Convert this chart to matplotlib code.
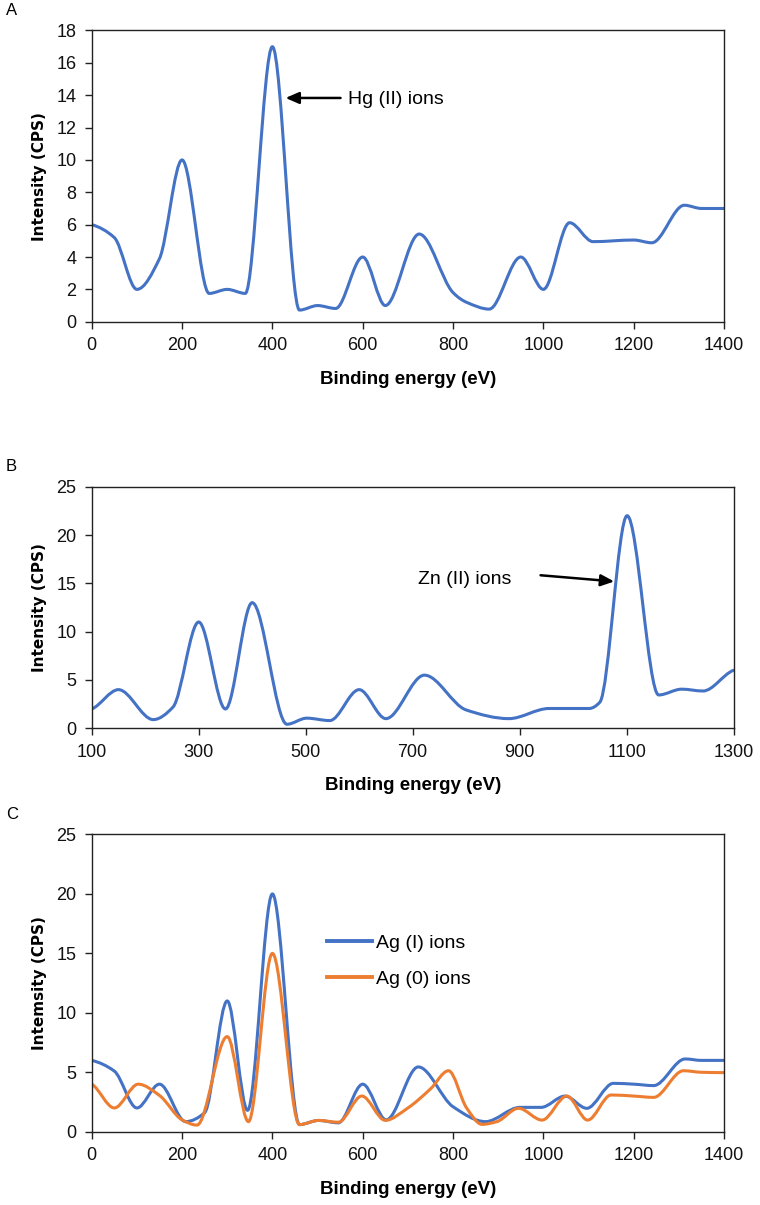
import matplotlib
matplotlib.use("Agg")
import matplotlib.pyplot as plt
import numpy as np
from matplotlib.path import Path
from matplotlib.patches import PathPatch

# ---- data ----
hg_x = [0, 50, 100, 150, 200, 260, 300, 340, 400, 460, 500, 540, 600, 650, 725, 800, 830, 880,
        950, 1000, 1058, 1110, 1200, 1240, 1312, 1350, 1400]
hg_y = [6, 5.2, 2, 3.9, 10, 1.75, 2, 1.75, 17, 0.72, 1, 0.82, 4, 1, 5.42, 1.8, 1.2, 0.78,
        4, 2, 6.12, 4.95, 5.05, 4.88, 7.2, 7, 7]

zn_x = [100, 150, 215, 252, 300, 350, 400, 465, 502, 545, 600, 650, 722, 800, 880, 955, 1030,
        1050, 1101, 1160, 1203, 1243, 1300]
zn_y = [2, 4, 0.9, 2.2, 11, 2, 13, 0.42, 1.05, 0.8, 4, 1, 5.5, 1.9, 1, 2.05, 2.05,
        2.7, 22, 3.45, 4.05, 3.86, 6]

agI_x = [0, 50, 100, 150, 208, 250, 300, 345, 400, 460, 502, 546, 600, 652, 723, 800, 872,
         948, 995, 1048, 1096, 1155, 1200, 1244, 1314, 1350, 1400]
agI_y = [6, 5.1, 2, 4, 0.85, 1.6, 11, 1.8, 20, 0.6, 0.95, 0.75, 4, 1, 5.45, 2.1, 0.85,
         2.05, 2.05, 3, 1.97, 4.07, 4, 3.88, 6.12, 6, 6]

ag0_x = [0, 50, 103, 150, 200, 233, 300, 347, 400, 460, 502, 546, 598, 650, 700, 750, 790, 830,
         864, 897, 945, 997, 1052, 1098, 1150, 1200, 1244, 1310, 1350, 1400]
ag0_y = [4, 2, 4, 3.05, 1, 0.56, 8, 0.85, 15, 0.6, 0.95, 0.8, 3, 0.96, 2, 3.6, 5.13, 2,
         0.62, 0.85, 1.97, 0.98, 3, 0.98, 3.09, 3, 2.89, 5.13, 5, 4.97]

BLUE = "#4472C4"
ORANGE = "#ED7D31"
TICK_FONT = ["Liberation Sans"]


def smooth_line(ax, x, y, color, label=None):
    # cubic bezier through the read points (like Excel "smoothed line")
    x = np.asarray(x, float)
    y = np.asarray(y, float)
    d = np.diff(y) / np.diff(x)
    m = np.zeros(len(x))
    for i in range(1, len(x) - 1):
        if d[i - 1] * d[i] > 0:
            m[i] = 2.0 / (1.0 / d[i - 1] + 1.0 / d[i])
    m[0] = d[0] * 0.5
    m[-1] = d[-1] * 0.5
    verts = [(x[0], y[0])]
    codes = [Path.MOVETO]
    for i in range(len(x) - 1):
        dx = x[i + 1] - x[i]
        verts += [(x[i] + dx / 3, y[i] + m[i] * dx / 3),
                  (x[i + 1] - dx / 3, y[i + 1] - m[i + 1] * dx / 3),
                  (x[i + 1], y[i + 1])]
        codes += [Path.CURVE4] * 3
    patch = PathPatch(Path(verts, codes), facecolor="none", edgecolor=color,
                      lw=2.2, capstyle="round", joinstyle="round")
    ax.add_patch(patch)
    if label:
        ax.plot([], [], color=color, lw=2.8, label=label)


def style(ax, xlim, xticks, ylim, yticks, ylabel):
    ax.set_xlim(xlim)
    ax.set_ylim(ylim)
    ax.set_xticks(xticks)
    ax.set_yticks(yticks)
    for s in ax.spines.values():
        s.set_linewidth(1.0)
        s.set_color("#222222")
    ax.tick_params(direction="out", length=5, width=1.0, colors="#222222", labelsize=13, pad=6)
    for lab in ax.get_xticklabels() + ax.get_yticklabels():
        lab.set_family(TICK_FONT)
        lab.set_color("#111111")
    ax.set_xlabel("Binding energy (eV)", family=TICK_FONT, fontweight="bold", fontsize=13.5, labelpad=12)
    ax.set_ylabel(ylabel, family="DejaVu Sans", fontweight="bold", fontsize=11, labelpad=7)


fig = plt.figure(figsize=(7.6, 12.05), dpi=100)
axA = fig.add_axes([0.1207, 0.733, 0.832, 0.2417])
axB = fig.add_axes([0.1207, 0.3956, 0.8445, 0.2005])
axC = fig.add_axes([0.1207, 0.0608, 0.832, 0.2467])

# A
smooth_line(axA, hg_x, hg_y, BLUE)
style(axA, (0, 1400), range(0, 1401, 200), (0, 18), range(0, 19, 2), "Intensity (CPS)")
axA.annotate("", xy=(423, 13.83), xytext=(557, 13.83),
             arrowprops=dict(arrowstyle="-|>,head_length=0.8,head_width=0.35", color="black", lw=1.8))
axA.text(568, 13.75, "Hg (II) ions", family=TICK_FONT, fontsize=14, va="center", ha="left")

# B
smooth_line(axB, zn_x, zn_y, BLUE)
style(axB, (100, 1300), range(100, 1301, 200), (0, 25), range(0, 26, 5), "Intensity (CPS)")
axB.annotate("", xy=(1082, 15.17), xytext=(934, 15.86),
             arrowprops=dict(arrowstyle="-|>,head_length=0.8,head_width=0.35", color="black", lw=1.8))
axB.text(710, 15.35, "Zn (II) ions", family=TICK_FONT, fontsize=14, va="center", ha="left")

# C
smooth_line(axC, agI_x, agI_y, BLUE, "Ag (I) ions")
smooth_line(axC, ag0_x, ag0_y, ORANGE, "Ag (0) ions")
style(axC, (0, 1400), range(0, 1401, 200), (0, 25), range(0, 26, 5), "Intemsity (CPS)")
axC.legend(loc="upper left", bbox_to_anchor=(0.372, 0.665), frameon=False, borderpad=0,
           borderaxespad=0, handlelength=2.3, handletextpad=0.2, labelspacing=0.95,
           prop={"family": TICK_FONT, "size": 14})

for lab, y in (("A", 0.991), ("B", 0.613), ("C", 0.324)):
    fig.text(0.008, y, lab, fontsize=12, family="Liberation Sans", va="center", ha="left")

fig.savefig("out.png", dpi=100)
